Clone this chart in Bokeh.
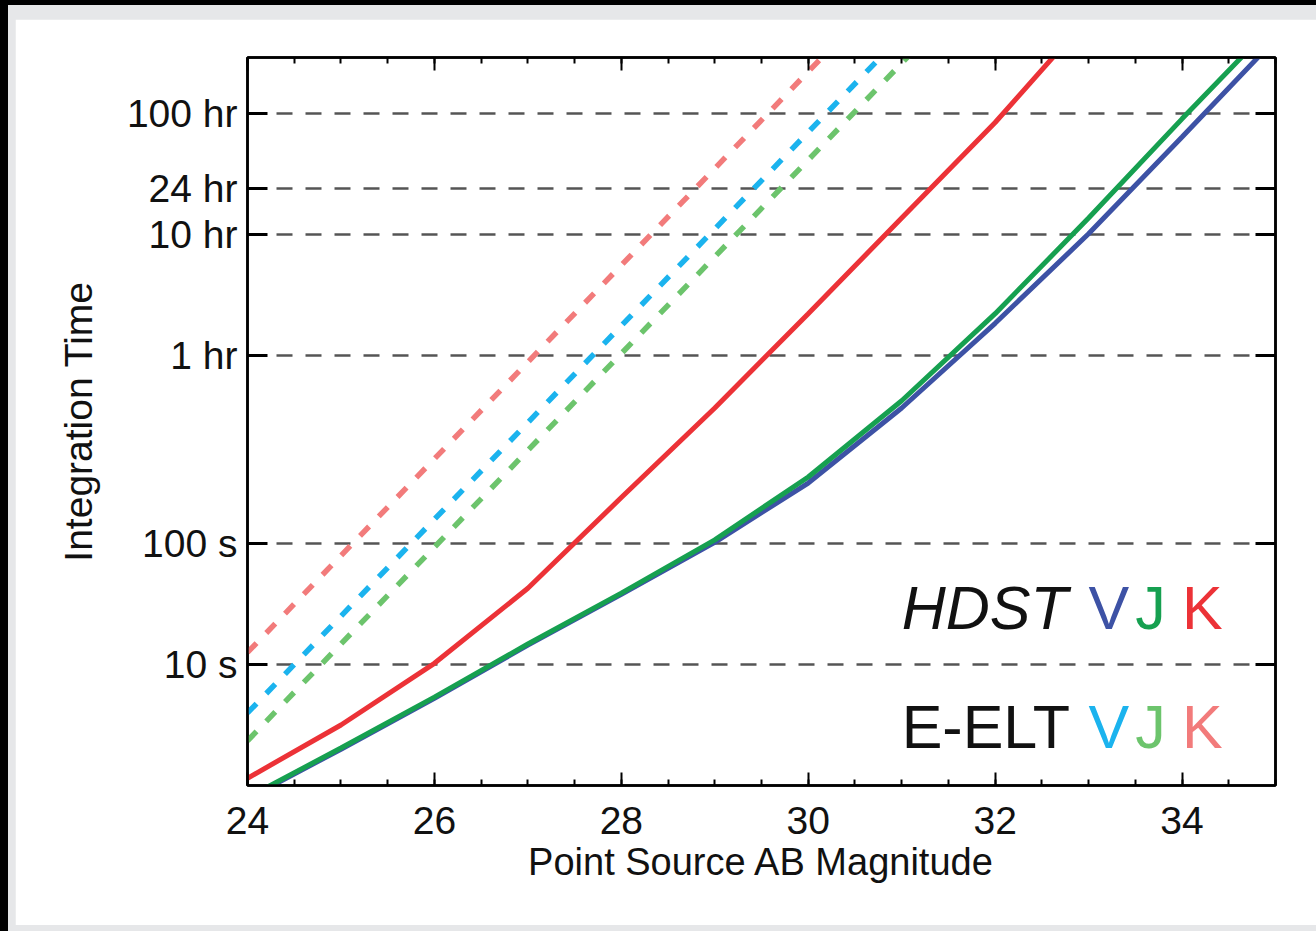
from bokeh.plotting import figure
from bokeh.models import (Range1d, LinearAxis, LogAxis, FixedTicker, SingleIntervalTicker,
                          Label, Spacer, CustomJSTickFormatter)
from bokeh.layouts import column, row
from bokeh.embed import file_html
from bokeh.resources import INLINE

# ---------------- data ----------------
# HDST (solid) integration times, log10(seconds), at integer AB magnitudes
hdst_k_mag = [24, 25, 26, 27, 28, 29, 30, 31, 32, 33]
hdst_k_log = [0.06, 0.50, 1.01, 1.63, 2.38, 3.12, 3.90, 4.69, 5.48, 6.35]
hdst_j_mag = [24, 25, 26, 27, 28, 29, 30, 31, 32, 33, 34, 35]
hdst_j_log = [-0.10, 0.31, 0.73, 1.17, 1.59, 2.03, 2.55, 3.18, 3.90, 4.69, 5.51, 6.31]
hdst_v_mag = [24, 25, 26, 27, 28, 29, 30, 31, 32, 33, 34, 35]
hdst_v_log = [-0.11, 0.30, 0.72, 1.16, 1.58, 2.01, 2.50, 3.12, 3.82, 4.56, 5.36, 6.17]
# E-ELT (dashed)
eelt_k_mag = [24, 25, 26, 27, 28, 29, 30, 31]
eelt_k_log = [1.10, 1.90, 2.70, 3.50, 4.30, 5.10, 5.90, 6.70]
eelt_v_mag = [24, 25, 26, 27, 28, 29, 30, 31]
eelt_v_log = [0.60, 1.40, 2.20, 3.00, 3.80, 4.60, 5.40, 6.20]
eelt_j_mag = [24, 25, 26, 27, 28, 29, 30, 31, 32]
eelt_j_log = [0.37, 1.17, 1.97, 2.77, 3.57, 4.37, 5.17, 5.97, 6.77]

# y tick positions (seconds) and labels
y_ticks = [10, 100, 3600, 36000, 86400, 360000]
y_tick_labels = ["10 s", "100 s", "1 hr", "10 hr", "24 hr", "100 hr"]
x_ticks_interval = 2

FONT = "Liberation Sans"

def secs(logs):
    return [10 ** v for v in logs]

W, H = 1301, 906
p = figure(width=W, height=H, y_axis_type="log",
           x_range=Range1d(24, 35), y_range=Range1d(1, 10 ** 6.017),
           output_backend="svg", toolbar_location=None,
           min_border_left=232, min_border_right=41, min_border_top=38, min_border_bottom=140,
           background_fill_color="white", border_fill_color="white",
           x_axis_label="Point Source AB Magnitude", y_axis_label="Integration Time")
p.outline_line_color = "black"
p.outline_line_width = 2.5

# grid
p.xgrid.grid_line_color = None
p.ygrid.ticker = FixedTicker(ticks=y_ticks)
p.ygrid.grid_line_color = "#555555"
p.ygrid.grid_line_width = 2.5
p.ygrid.grid_line_dash = "16 13"

# x axis
xa = p.xaxis[0]
xa.ticker = SingleIntervalTicker(interval=x_ticks_interval, num_minor_ticks=4)
xa.axis_line_color = "black"
xa.axis_line_width = 2.5
xa.major_tick_in = 13
xa.major_tick_out = 0
xa.minor_tick_in = 6
xa.minor_tick_out = 0
xa.major_tick_line_width = 2
xa.minor_tick_line_width = 2
xa.major_label_text_font = FONT
xa.major_label_text_font_size = "39px"
xa.major_label_text_color = "#111111"
xa.major_label_standoff = 21
xa.axis_label_text_font = FONT
xa.axis_label_text_font_size = "38px"
xa.axis_label_text_font_style = "normal"
xa.axis_label_text_color = "#111111"
xa.axis_label_standoff = 4

ya = p.yaxis[0]
ya.ticker = FixedTicker(ticks=y_ticks)
ya.major_label_overrides = {t: l for t, l in zip(y_ticks, y_tick_labels)}
ya.axis_line_color = "black"
ya.axis_line_width = 2.5
ya.major_tick_in = 20
ya.major_tick_out = 0
ya.major_tick_line_width = 3
ya.minor_tick_line_color = None
ya.major_label_text_font = FONT
ya.major_label_text_font_size = "39px"
ya.major_label_text_color = "#111111"
ya.major_label_standoff = 10
ya.axis_label_text_font = FONT
ya.axis_label_text_font_size = "39px"
ya.axis_label_text_font_style = "normal"
ya.axis_label_text_color = "#111111"
ya.axis_label_standoff = 24

# mirrored axes (top / right): ticks only, no labels
blank = CustomJSTickFormatter(code="return '';")
top = LinearAxis(ticker=SingleIntervalTicker(interval=x_ticks_interval, num_minor_ticks=4),
                 major_tick_in=13, major_tick_out=0, minor_tick_in=6, minor_tick_out=0,
                 major_tick_line_width=2, minor_tick_line_width=2,
                 axis_line_width=2.5, formatter=blank, major_label_standoff=0)
p.add_layout(top, "above")
right = LogAxis(ticker=FixedTicker(ticks=y_ticks), major_tick_in=20, major_tick_out=0,
                major_tick_line_width=3, minor_tick_line_color=None,
                axis_line_width=2.5, formatter=blank, major_label_standoff=0)
p.add_layout(right, "right")

# E-ELT dashed lines
dash = "13 14"
p.line(eelt_k_mag, secs(eelt_k_log), line_color="#f27b7b", line_width=5.5, line_dash=dash)
p.line(eelt_v_mag, secs(eelt_v_log), line_color="#1bb3ee", line_width=5.5, line_dash=dash)
p.line(eelt_j_mag, secs(eelt_j_log), line_color="#6cc46c", line_width=5.5, line_dash=dash)

# HDST solid lines
p.line(hdst_k_mag, secs(hdst_k_log), line_color="#ec3237", line_width=5)
p.line(hdst_v_mag, secs(hdst_v_log), line_color="#3d52a5", line_width=5)
p.line(hdst_j_mag, secs(hdst_j_log), line_color="#16a050", line_width=5)

# legend-like labels
LSIZE = "61px"
lab_x_name = 31.0
lab_y_hdst = 10 ** 1.47
lab_y_eelt = 10 ** 0.48
band_x = [33.0, 33.5, 34.0]
band_txt = ["V", "J", "K"]
hdst_cols = ["#3d52a5", "#16a050", "#ec3237"]
eelt_cols = ["#1bb3ee", "#6cc46c", "#f27b7b"]

p.add_layout(Label(x=lab_x_name, y=lab_y_hdst, text="HDST", text_font=FONT, text_font_size=LSIZE,
                   text_font_style="italic", text_color="#111111", text_baseline="alphabetic"))
p.add_layout(Label(x=lab_x_name, y=lab_y_eelt, text="E-ELT", text_font=FONT, text_font_size=LSIZE,
                   text_color="#111111", text_baseline="alphabetic"))
for bx, bt, c1, c2 in zip(band_x, band_txt, hdst_cols, eelt_cols):
    p.add_layout(Label(x=bx, y=lab_y_hdst, text=bt, text_font=FONT, text_font_size=LSIZE,
                       text_color=c1, text_baseline="alphabetic"))
    p.add_layout(Label(x=bx, y=lab_y_eelt, text=bt, text_font=FONT, text_font_size=LSIZE,
                       text_color=c2, text_baseline="alphabetic"))

# page frame (black edge + light gray band around a white panel)
gray = "#e6e7e9"
inner = column(Spacer(width=1308, height=14, styles={"background-color": gray}),
               row(Spacer(width=7, height=H, styles={"background-color": gray}), p, spacing=0),
               Spacer(width=1308, height=6, styles={"background-color": gray}),
               spacing=0, styles={"background-color": gray})
layout = column(Spacer(width=1316, height=5, styles={"background-color": "black"}),
                row(Spacer(width=8, height=926, styles={"background-color": "black"}), inner, spacing=0),
                spacing=0, styles={"background-color": "black"})

open("out.html", "w").write(file_html(layout, INLINE))
